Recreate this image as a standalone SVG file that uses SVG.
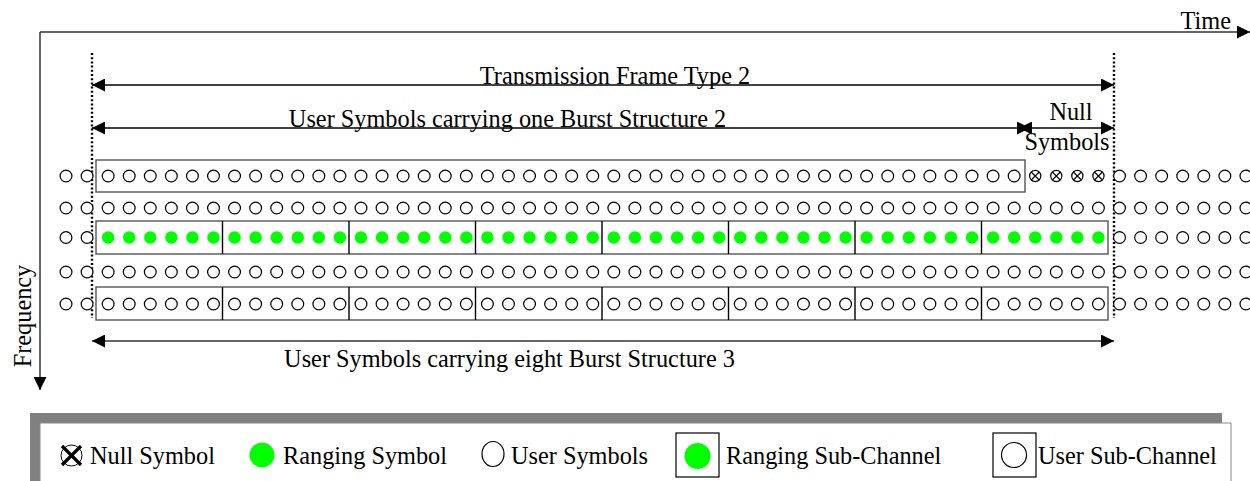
<svg xmlns="http://www.w3.org/2000/svg" xmlns:xlink="http://www.w3.org/1999/xlink" width="1250" height="481" viewBox="0 0 1250 481">
<style>
text{font-family:"Liberation Serif","Times New Roman",serif;font-size:24.3px;fill:#000}
.o{fill:#fff;stroke:#000;stroke-width:1.2}
.g{fill:#00ff00;stroke:none}
.box{fill:none;stroke:#555;stroke-width:1.4}
.div{stroke:#000;stroke-width:1.4}
.nx{stroke:#000;stroke-width:1.1}
.arr{stroke:#000;stroke-width:1.4;fill:none}
.dot{stroke:#000;stroke-width:2.4;stroke-dasharray:2 2.2;fill:none}
</style>
<defs>
<marker id="ah" markerUnits="userSpaceOnUse" markerWidth="13" markerHeight="13" refX="13" refY="6.5" orient="auto-start-reverse" viewBox="0 0 13 13"><path d="M0,0 L13,6.5 L0,13 z" fill="#000"/></marker>
<g id="cL"><circle class="o" cx="66" cy="0" r="5.9"/><circle class="o" cx="87.07" cy="0" r="5.9"/></g>
<g id="cM">
<circle class="o" cx="108.14" cy="0" r="5.9"/><circle class="o" cx="129.21" cy="0" r="5.9"/><circle class="o" cx="150.28" cy="0" r="5.9"/><circle class="o" cx="171.35" cy="0" r="5.9"/><circle class="o" cx="192.42" cy="0" r="5.9"/><circle class="o" cx="213.49" cy="0" r="5.9"/><circle class="o" cx="234.56" cy="0" r="5.9"/><circle class="o" cx="255.63" cy="0" r="5.9"/><circle class="o" cx="276.70" cy="0" r="5.9"/><circle class="o" cx="297.77" cy="0" r="5.9"/><circle class="o" cx="318.84" cy="0" r="5.9"/><circle class="o" cx="339.91" cy="0" r="5.9"/><circle class="o" cx="360.98" cy="0" r="5.9"/><circle class="o" cx="382.05" cy="0" r="5.9"/><circle class="o" cx="403.12" cy="0" r="5.9"/><circle class="o" cx="424.19" cy="0" r="5.9"/><circle class="o" cx="445.26" cy="0" r="5.9"/><circle class="o" cx="466.33" cy="0" r="5.9"/><circle class="o" cx="487.40" cy="0" r="5.9"/><circle class="o" cx="508.47" cy="0" r="5.9"/><circle class="o" cx="529.54" cy="0" r="5.9"/><circle class="o" cx="550.61" cy="0" r="5.9"/><circle class="o" cx="571.68" cy="0" r="5.9"/><circle class="o" cx="592.75" cy="0" r="5.9"/><circle class="o" cx="613.82" cy="0" r="5.9"/><circle class="o" cx="634.89" cy="0" r="5.9"/><circle class="o" cx="655.96" cy="0" r="5.9"/><circle class="o" cx="677.03" cy="0" r="5.9"/><circle class="o" cx="698.10" cy="0" r="5.9"/><circle class="o" cx="719.17" cy="0" r="5.9"/><circle class="o" cx="740.24" cy="0" r="5.9"/><circle class="o" cx="761.31" cy="0" r="5.9"/><circle class="o" cx="782.38" cy="0" r="5.9"/><circle class="o" cx="803.45" cy="0" r="5.9"/><circle class="o" cx="824.52" cy="0" r="5.9"/><circle class="o" cx="845.59" cy="0" r="5.9"/><circle class="o" cx="866.66" cy="0" r="5.9"/><circle class="o" cx="887.73" cy="0" r="5.9"/><circle class="o" cx="908.80" cy="0" r="5.9"/><circle class="o" cx="929.87" cy="0" r="5.9"/><circle class="o" cx="950.94" cy="0" r="5.9"/><circle class="o" cx="972.01" cy="0" r="5.9"/><circle class="o" cx="993.08" cy="0" r="5.9"/><circle class="o" cx="1014.15" cy="0" r="5.9"/>
</g>
<g id="cN"><circle class="o" cx="1035.22" cy="0" r="5.9"/><circle class="o" cx="1056.29" cy="0" r="5.9"/><circle class="o" cx="1077.36" cy="0" r="5.9"/><circle class="o" cx="1098.43" cy="0" r="5.9"/></g>
<g id="cR"><circle class="o" cx="1119.50" cy="0" r="5.9"/><circle class="o" cx="1140.57" cy="0" r="5.9"/><circle class="o" cx="1161.64" cy="0" r="5.9"/><circle class="o" cx="1182.71" cy="0" r="5.9"/><circle class="o" cx="1203.78" cy="0" r="5.9"/><circle class="o" cx="1224.85" cy="0" r="5.9"/><circle class="o" cx="1245.92" cy="0" r="5.9"/></g>
<g id="nul"><circle class="o" cx="0" cy="0" r="5.6"/><path class="nx" d="M-4,-4 L4,4 M-4,4 L4,-4"/></g>
</defs>
<rect width="1250" height="481" fill="#fff"/>

<g id="connectors">
<line x1="40" y1="32" x2="1250" y2="32" stroke="#333" stroke-width="1.5" marker-end="url(#ah)"/>
<line x1="40" y1="32" x2="40" y2="390" stroke="#333" stroke-width="1.5" marker-end="url(#ah)"/>
<line class="arr" x1="92" y1="85" x2="1114" y2="85" marker-start="url(#ah)" marker-end="url(#ah)"/>
<line class="arr" x1="92" y1="128" x2="1030" y2="128" marker-start="url(#ah)" marker-end="url(#ah)"/>
<line class="arr" x1="1019" y1="128" x2="1114" y2="128" marker-start="url(#ah)" marker-end="url(#ah)"/>
<line x1="92" y1="341" x2="1114" y2="341" stroke="#666" stroke-width="1.8" marker-start="url(#ah)" marker-end="url(#ah)"/>
<line class="dot" x1="92" y1="53" x2="92" y2="318"/>
<line class="dot" x1="1114" y1="53" x2="1114" y2="318"/>
</g>

<g id="axis-labels">
<text x="1231" y="29" text-anchor="end">Time</text>
<text transform="translate(31,316) rotate(-90)" text-anchor="middle">Frequency</text>
<text x="615" y="84" text-anchor="middle">Transmission Frame Type 2</text>
<text x="507.5" y="127" text-anchor="middle">User Symbols carrying one Burst Structure 2</text>
<text x="1071" y="120" text-anchor="middle">Null</text>
<text x="1067" y="150" text-anchor="middle">Symbols</text>
<text x="509.5" y="367" text-anchor="middle">User Symbols carrying eight Burst Structure 3</text>
</g>

<g id="row1">
<rect class="box" x="96" y="160" width="929" height="32"/>
<use href="#cL" transform="translate(0,176)"/>
<use href="#cM" transform="translate(0,176)"/>
<use href="#nul" transform="translate(1035.22,176)"/>
<use href="#nul" transform="translate(1056.29,176)"/>
<use href="#nul" transform="translate(1077.36,176)"/>
<use href="#nul" transform="translate(1098.43,176)"/>
<use href="#cR" transform="translate(0,176)"/>
</g>

<g id="row2">
<use href="#cL" transform="translate(0,208)"/>
<use href="#cM" transform="translate(0,208)"/>
<use href="#cN" transform="translate(0,208)"/>
<use href="#cR" transform="translate(0,208)"/>
</g>

<g id="row3">
<rect class="box" x="96" y="221" width="1012" height="33"/>
<path class="div" d="M222.5,221V254M349,221V254M475.5,221V254M602,221V254M728.5,221V254M855,221V254M981.5,221V254"/>
<use href="#cL" transform="translate(0,237.5)"/>
<g transform="translate(0,237.5)">
<circle class="g" cx="108.14" cy="0" r="6.2"/><circle class="g" cx="129.21" cy="0" r="6.2"/><circle class="g" cx="150.28" cy="0" r="6.2"/><circle class="g" cx="171.35" cy="0" r="6.2"/><circle class="g" cx="192.42" cy="0" r="6.2"/><circle class="g" cx="213.49" cy="0" r="6.2"/><circle class="g" cx="234.56" cy="0" r="6.2"/><circle class="g" cx="255.63" cy="0" r="6.2"/><circle class="g" cx="276.70" cy="0" r="6.2"/><circle class="g" cx="297.77" cy="0" r="6.2"/><circle class="g" cx="318.84" cy="0" r="6.2"/><circle class="g" cx="339.91" cy="0" r="6.2"/><circle class="g" cx="360.98" cy="0" r="6.2"/><circle class="g" cx="382.05" cy="0" r="6.2"/><circle class="g" cx="403.12" cy="0" r="6.2"/><circle class="g" cx="424.19" cy="0" r="6.2"/><circle class="g" cx="445.26" cy="0" r="6.2"/><circle class="g" cx="466.33" cy="0" r="6.2"/><circle class="g" cx="487.40" cy="0" r="6.2"/><circle class="g" cx="508.47" cy="0" r="6.2"/><circle class="g" cx="529.54" cy="0" r="6.2"/><circle class="g" cx="550.61" cy="0" r="6.2"/><circle class="g" cx="571.68" cy="0" r="6.2"/><circle class="g" cx="592.75" cy="0" r="6.2"/><circle class="g" cx="613.82" cy="0" r="6.2"/><circle class="g" cx="634.89" cy="0" r="6.2"/><circle class="g" cx="655.96" cy="0" r="6.2"/><circle class="g" cx="677.03" cy="0" r="6.2"/><circle class="g" cx="698.10" cy="0" r="6.2"/><circle class="g" cx="719.17" cy="0" r="6.2"/><circle class="g" cx="740.24" cy="0" r="6.2"/><circle class="g" cx="761.31" cy="0" r="6.2"/><circle class="g" cx="782.38" cy="0" r="6.2"/><circle class="g" cx="803.45" cy="0" r="6.2"/><circle class="g" cx="824.52" cy="0" r="6.2"/><circle class="g" cx="845.59" cy="0" r="6.2"/><circle class="g" cx="866.66" cy="0" r="6.2"/><circle class="g" cx="887.73" cy="0" r="6.2"/><circle class="g" cx="908.80" cy="0" r="6.2"/><circle class="g" cx="929.87" cy="0" r="6.2"/><circle class="g" cx="950.94" cy="0" r="6.2"/><circle class="g" cx="972.01" cy="0" r="6.2"/><circle class="g" cx="993.08" cy="0" r="6.2"/><circle class="g" cx="1014.15" cy="0" r="6.2"/><circle class="g" cx="1035.22" cy="0" r="6.2"/><circle class="g" cx="1056.29" cy="0" r="6.2"/><circle class="g" cx="1077.36" cy="0" r="6.2"/><circle class="g" cx="1098.43" cy="0" r="6.2"/>
</g>
<use href="#cR" transform="translate(0,237.5)"/>
</g>

<g id="row4">
<use href="#cL" transform="translate(0,272)"/>
<use href="#cM" transform="translate(0,272)"/>
<use href="#cN" transform="translate(0,272)"/>
<use href="#cR" transform="translate(0,272)"/>
</g>

<g id="row5">
<rect class="box" x="96" y="287" width="1012" height="33"/>
<path class="div" d="M222.5,287V320M349,287V320M475.5,287V320M602,287V320M728.5,287V320M855,287V320M981.5,287V320"/>
<use href="#cL" transform="translate(0,304)"/>
<use href="#cM" transform="translate(0,304)"/>
<use href="#cN" transform="translate(0,304)"/>
<use href="#cR" transform="translate(0,304)"/>
</g>

<g id="legend">
<rect x="30" y="413" width="1192" height="80" fill="#808080"/>
<rect x="40" y="423" width="1191" height="70" fill="#fff" stroke="#888" stroke-width="1"/>
<g id="legend-null">
<circle cx="71.5" cy="455.5" r="10.5" fill="#fff" stroke="#000" stroke-width="1"/>
<path d="M62,446 L81,465 M62,465 L81,446" stroke="#000" stroke-width="3.2"/>
<text x="90" y="464">Null Symbol</text>
</g>
<g id="legend-ranging">
<circle cx="262" cy="455" r="12.5" fill="#00ff00"/>
<text x="283" y="464">Ranging Symbol</text>
</g>
<g id="legend-user">
<ellipse cx="493" cy="454" rx="11" ry="12.5" fill="#fff" stroke="#000" stroke-width="1.2"/>
<text x="511" y="464">User Symbols</text>
</g>
<g id="legend-ranging-sub">
<rect x="676" y="433" width="43" height="44" fill="#fff" stroke="#000" stroke-width="1.2"/>
<circle cx="697.5" cy="456" r="13" fill="#00ff00"/>
<text x="726" y="464">Ranging Sub-Channel</text>
</g>
<g id="legend-user-sub">
<rect x="993" y="433" width="43" height="44" fill="#fff" stroke="#000" stroke-width="1.2"/>
<ellipse cx="1014" cy="455" rx="12.5" ry="12.5" fill="#fff" stroke="#000" stroke-width="1.2"/>
<text x="1038" y="464">User Sub-Channel</text>
</g>
</g>
</svg>
